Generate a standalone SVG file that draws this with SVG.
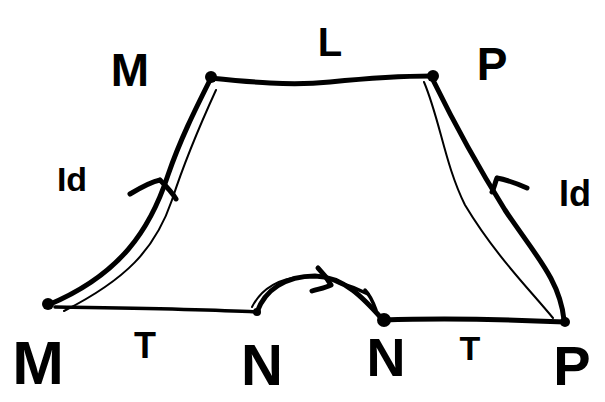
<svg xmlns="http://www.w3.org/2000/svg" width="605" height="402" viewBox="0 0 605 402">
<style>
.ink{fill:none;stroke:#000;stroke-linecap:round;stroke-linejoin:round}
.thick{stroke-width:5}
.mid{stroke-width:3.5}
.thin{stroke-width:2}
.dot{fill:#000}
.lbl{font-family:"Liberation Sans",Arial,sans-serif;font-weight:bold;fill:#000;text-anchor:middle}
</style>
<rect width="605" height="402" fill="#fff"/>
<g id="connectors">
  <path class="ink thick" d="M210,78 C250,82 290,86 330,82 C370,78 400,76 432,76"/>
  <path class="ink thick" d="M210,80 C195,110 180,140 168,175 C150,230 120,275 48,305"/>
  <path class="ink thin" d="M216,90 C200,125 185,160 172,200 C155,250 125,280 64,311"/>
  <path class="ink thick" d="M433,80 C455,125 480,170 505,210 C535,255 560,280 564,320"/>
  <path class="ink thin" d="M424,82 C440,120 445,165 465,205 C495,255 530,290 553,318"/>
  <path class="ink mid" d="M55,307 C120,308 200,309 257,312"/>
  <path class="ink thick" d="M383,320 C440,318 500,319 565,322"/>
  <path class="ink thick" d="M257,312 C265,290 285,276 315,276 C345,277 365,300 383,320"/>
  <path class="ink thin" d="M252,307 C262,287 282,278 300,277"/>
  <path class="ink mid" d="M340,283 C350,286 360,290 368,294"/>
  <path class="ink mid" d="M365,290 C370,295 373,302 376,310"/>
  <path class="ink thick" d="M130,194 C140,188 150,182 160,180 M160,180 C166,186 172,192 176,199"/>
  <path class="ink thick" d="M497,178 C508,180 518,184 527,188 M497,178 C495,183 494,188 492,192"/>
  <path class="ink thick" d="M318,268 C322,272 327,278 331,285 C325,288 318,289 312,291"/>
</g>
<g id="node-M-top">
  <circle class="dot" cx="211" cy="77" r="6"/>
  <text class="lbl" x="130" y="86" font-size="46">M</text>
</g>
<g id="node-P-top">
  <circle class="dot" cx="433" cy="76" r="6"/>
  <text class="lbl" x="492" y="80" font-size="46">P</text>
</g>
<g id="label-L">
  <text class="lbl" x="330" y="56" font-size="40">L</text>
</g>
<g id="label-Id-left">
  <text class="lbl" x="72" y="191" font-size="34">Id</text>
</g>
<g id="label-Id-right">
  <text class="lbl" x="575" y="206" font-size="36">Id</text>
</g>
<g id="node-M-bottom">
  <circle class="dot" cx="48" cy="304" r="6"/>
  <text class="lbl" x="38" y="384" font-size="62">M</text>
</g>
<g id="node-N-left">
  <circle class="dot" cx="257" cy="312" r="4"/>
  <text class="lbl" x="262" y="385" font-size="58">N</text>
</g>
<g id="node-N-right">
  <circle class="dot" cx="384" cy="320" r="7"/>
  <text class="lbl" x="386" y="376" font-size="54">N</text>
</g>
<g id="node-P-bottom">
  <circle class="dot" cx="565" cy="322" r="5"/>
  <text class="lbl" x="572" y="385" font-size="56">P</text>
</g>
<g id="label-T-left">
  <text class="lbl" x="145" y="358" font-size="36">T</text>
</g>
<g id="label-T-right">
  <text class="lbl" x="470" y="360" font-size="34">T</text>
</g>
</svg>
